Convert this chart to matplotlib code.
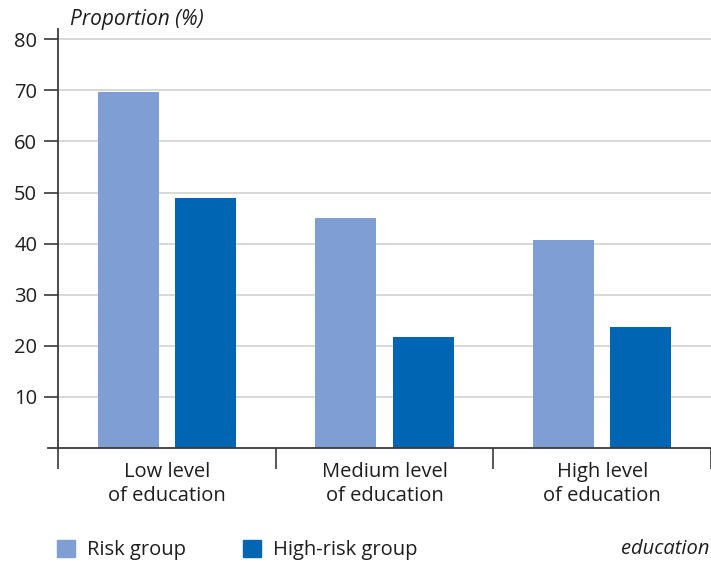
import numpy as np
import matplotlib.pyplot as plt
from matplotlib.patches import Patch

plt.rcParams['font.family'] = ['Open Sans', 'DejaVu Sans']

# Data
categories = ['Low level\nof education', 'Medium level\nof education', 'High level\nof education']
risk_group = [69.7, 45.0, 40.8]
high_risk_group = [49.0, 21.8, 23.7]
series_names = ['Risk group', 'High-risk group']
yticks = [10, 20, 30, 40, 50, 60, 70, 80]

light_blue = '#7f9fd4'
dark_blue = '#0066b3'
axis_col = '#3a3a3a'
text_col = '#1e1e1e'
fs = 14.5

fig = plt.figure(figsize=(7.11, 5.63), dpi=100)
ax = fig.add_axes([58 / 711, 115 / 563, 653 / 711, 419 / 563])

x = np.arange(len(categories))
width = 0.28
ax.bar(x - 0.177, risk_group, width, color=light_blue, zorder=2)
ax.bar(x + 0.177, high_risk_group, width, color=dark_blue, zorder=2)

ax.set_xlim(-0.5, 2.5)
ax.set_ylim(0, 82)

# gridlines
ax.set_yticks(yticks)
ax.yaxis.grid(True, color='#d6d6d6', linewidth=1.3, zorder=0)
ax.set_axisbelow(True)
ax.tick_params(axis='y', length=10, width=1.2, color=axis_col, labelsize=fs, pad=5, labelcolor=text_col)

# category labels and group separators
ax.set_xticks(x)
ax.set_xticklabels(categories, fontsize=fs, linespacing=1.25, color=text_col)
ax.set_xticks([-0.5, 0.5, 1.5, 2.5], minor=True)
ax.tick_params(axis='x', which='major', length=0, pad=10)
ax.tick_params(axis='x', which='minor', length=15, width=1.2, color=axis_col)

for side in ['top', 'right', 'bottom']:
    ax.spines[side].set_visible(False)
ax.spines['left'].set_color(axis_col)
ax.spines['left'].set_linewidth(1.3)

# baseline running slightly left of the y axis
ax.plot([-0.016, 1], [0, 0], transform=ax.transAxes, color=axis_col,
        linewidth=1.3, clip_on=False, zorder=3)

fig.text(70 / 711, 1 - 19 / 563, 'Proportion (%)', fontsize=15, style='italic',
         va='center', ha='left', color=text_col)
fig.text(710 / 711, 1 - 549 / 563, 'education', fontsize=fs, style='italic',
         va='center', ha='right', color=text_col)

handles = [Patch(color=light_blue), Patch(color=dark_blue)]
fig.legend(handles, series_names, loc='center left', bbox_to_anchor=(39 / 711, 1 - 550 / 563),
           ncol=2, frameon=False, fontsize=fs, handlelength=0.9, handleheight=0.9,
           handletextpad=0.6, columnspacing=2.8, labelcolor=text_col)

fig.savefig('out.png', dpi=100)
